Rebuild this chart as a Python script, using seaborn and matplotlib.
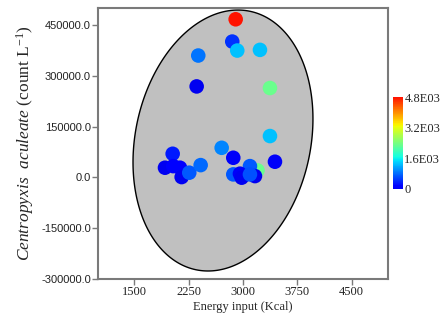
import numpy as np
import pandas as pd
import matplotlib
matplotlib.use("Agg")
import matplotlib.pyplot as plt
import seaborn as sns
from matplotlib.colors import ListedColormap, Normalize
from matplotlib.cm import ScalarMappable

# Data (energy input, abundance, colour value)
energy = [3200, 2899, 2852, 2921, 3234, 2383, 2361, 3372, 3372, 2706,
          2030, 1924, 2038, 2131, 2154, 2259, 2416, 2866, 3096, 3441,
          2866, 2958, 2982, 3165, 3096]
abundance = [20600, 466700, 400900, 374400, 376400, 359700, 268500, 263800, 122000, 87300,
             69700, 28500, 33200, 28500, 900, 13800, 36200, 57900, 33200, 46200,
             8800, 10900, -900, 3800, 8800]
value = [2300, 4800, 450, 1300, 1300, 850, 0, 2300, 1300, 950,
         300, 0, 150, 150, 0, 700, 800, 50, 700, 50,
         700, 50, 0, 0, 650]

x_ticks = [1500, 2250, 3000, 3750, 4500]
y_ticks = [-300000, -150000, 0, 150000, 300000, 450000]
cbar_ticks = [0, 1600, 3200, 4800]
cbar_labels = ["0", "1.6E03", "3.2E03", "4.8E03"]

# ellipse (centre, and the two half-axis vectors in data units)
ell_center = (2724, 108800)
ell_u = (370.6, 381600)
ell_v = (1184.3, -52310)

df = pd.DataFrame({"energy": energy, "abundance": abundance, "value": value})

sns.set_style("white")
plt.rcParams["font.family"] = ["Liberation Serif", "DejaVu Serif"]
plt.rcParams["mathtext.fontset"] = "custom"
plt.rcParams["mathtext.rm"] = "Liberation Serif"
plt.rcParams["mathtext.it"] = "Liberation Serif:italic"

# jet without its darkest ends
cmap = ListedColormap(plt.get_cmap("jet")(np.linspace(0.1, 0.89, 256)))
norm = Normalize(0, 4800)

fig = plt.figure(figsize=(4.45, 3.28), dpi=100)
ax = fig.add_axes([0.2202, 0.1494, 0.6517, 0.8262])

t = np.linspace(0, 2 * np.pi, 400)
ex = ell_center[0] + ell_u[0] * np.cos(t) + ell_v[0] * np.sin(t)
ey = ell_center[1] + ell_u[1] * np.cos(t) + ell_v[1] * np.sin(t)
ax.fill(ex, ey, facecolor="#c0c0c0", edgecolor="black", linewidth=1.0, zorder=1)

sns.scatterplot(data=df, x="energy", y="abundance", hue="value", palette=cmap,
                hue_norm=norm, s=110, edgecolor="none", linewidth=0,
                legend=False, ax=ax, zorder=3)

ax.set_xlim(1000, 5000)
ax.set_ylim(-300000, 500000)
ax.set_xticks(x_ticks)
ax.set_xticklabels([str(v) for v in x_ticks], fontsize=9)
ax.set_yticks(y_ticks)
ax.set_yticklabels([f"{v:.1f}" for v in y_ticks], fontsize=8,
                   family="Liberation Sans")
for s in ax.spines.values():
    s.set_color("#7a7a7a")
    s.set_linewidth(1.5)
ax.tick_params(axis="both", direction="out", length=4, width=1, color="#7a7a7a",
               colors="#222222", pad=1, left=True, bottom=True)

ax.set_xlabel("Energy input (Kcal)", fontsize=9, labelpad=2)
ax.set_ylabel(r"$\mathit{Centropyxis}$  $\mathit{aculeate}$ (count L$^{-1}$)",
              fontsize=12.5, labelpad=4)

cax = fig.add_axes([0.883, 0.424, 0.0225, 0.28])
sm = ScalarMappable(norm=norm, cmap=cmap)
cb = fig.colorbar(sm, cax=cax, ticks=cbar_ticks)
cb.ax.set_yticklabels(cbar_labels, fontsize=9)
cb.outline.set_visible(False)
cb.ax.tick_params(length=0, pad=1)

fig.savefig("out.png", dpi=100)
